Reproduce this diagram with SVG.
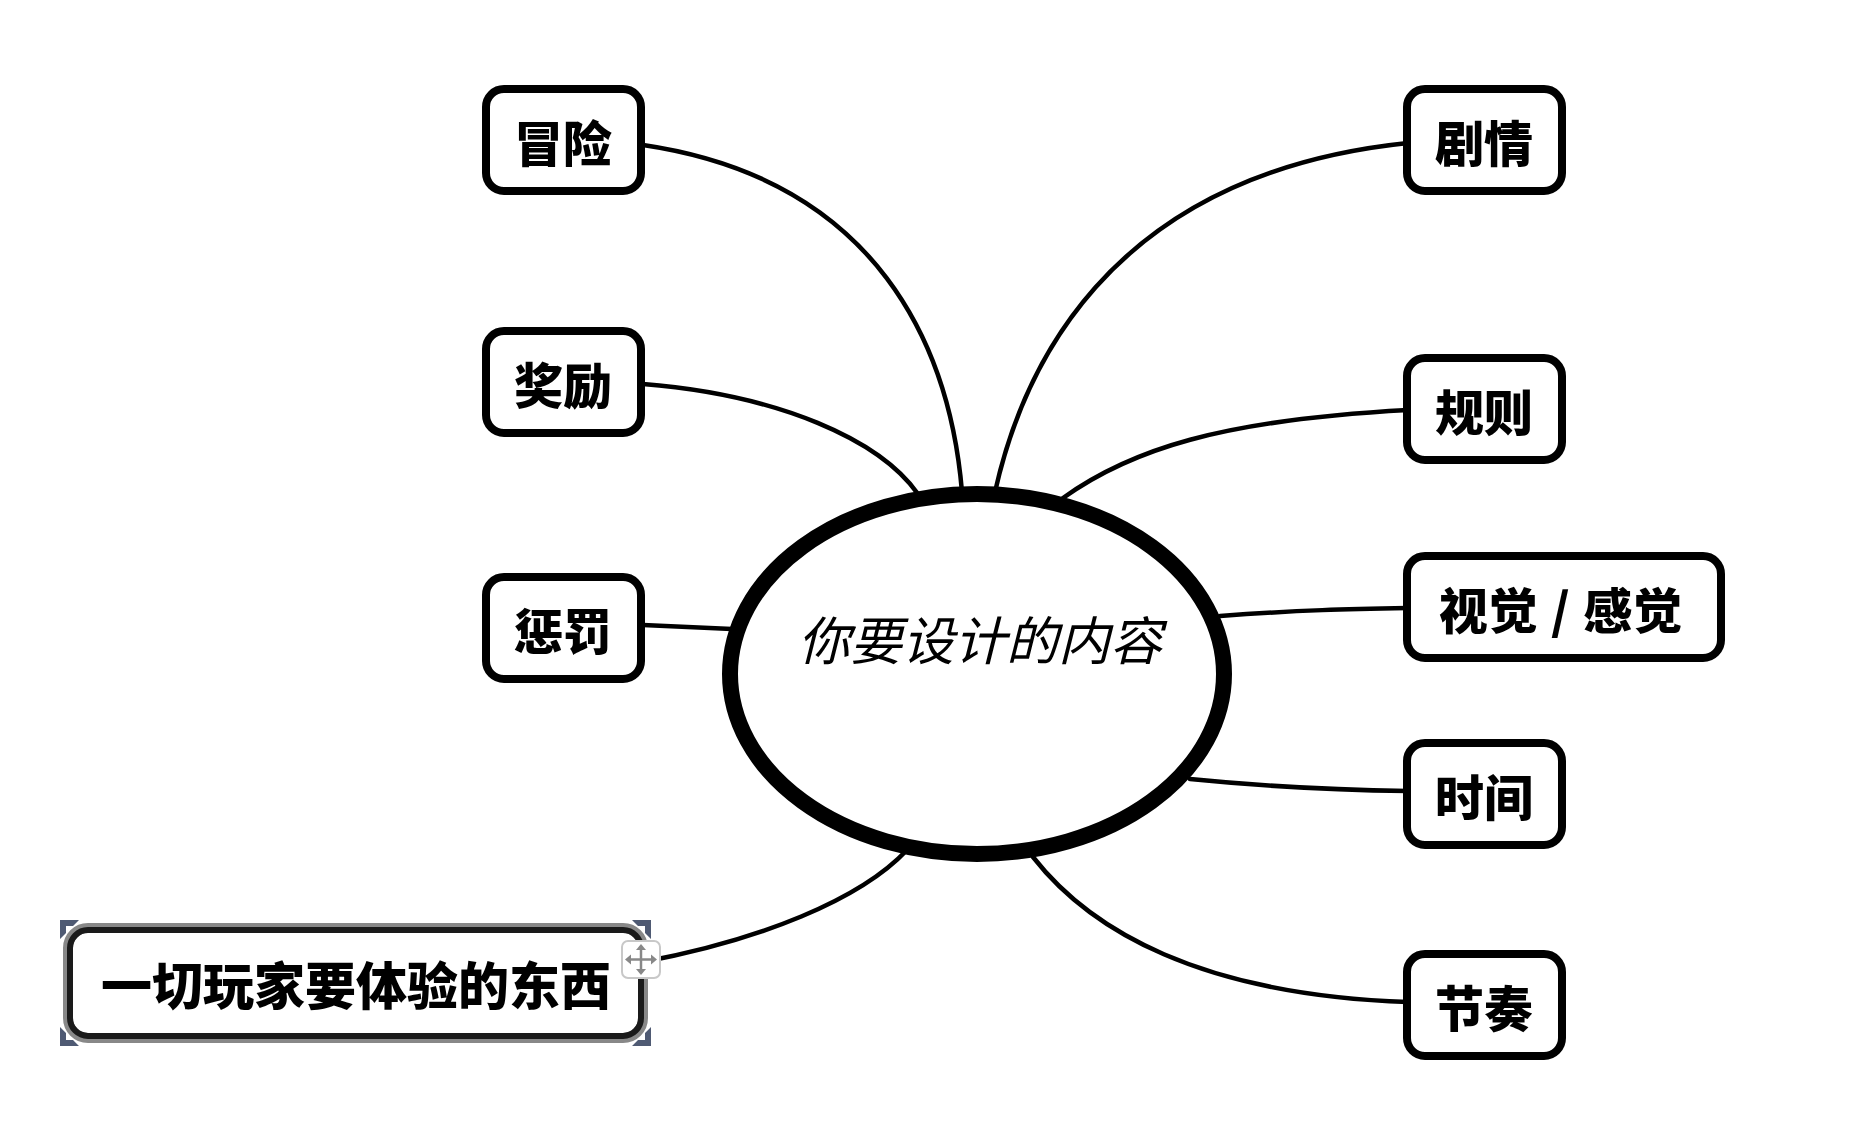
<svg xmlns="http://www.w3.org/2000/svg" width="1866" height="1142" viewBox="0 0 1866 1142">
<style>
.conn{fill:none;stroke:#000;stroke-width:4.5;stroke-linecap:round}
.box{fill:#fff;stroke:#000;stroke-width:8}
.lbl{font-family:"Noto Sans CJK SC","Noto Sans",sans-serif;font-weight:900;font-size:49px;fill:#000;text-anchor:middle;dominant-baseline:central}
.center{font-family:"Noto Sans CJK SC","Noto Sans",sans-serif;font-style:italic;font-size:52px;fill:#000;text-anchor:middle}
.handle{fill:#4f5a73}
</style>
<rect width="1866" height="1142" fill="#fff"/>
<g id="connectors">
<path class="conn" d="M643,145 C880,180 950,350 962,492"/>
<path class="conn" d="M643,384 C780,395 880,440 918,494"/>
<path class="conn" d="M643,625 L732,629"/>
<path class="conn" d="M643,962 C760,940 860,900 907,850"/>
<path class="conn" d="M995,492 C1020,380 1100,175 1408,143"/>
<path class="conn" d="M1063,498 C1130,450 1220,420 1408,410"/>
<path class="conn" d="M1220,616 C1300,610 1350,609 1408,608"/>
<path class="conn" d="M1190,779 C1260,786 1330,790 1408,791"/>
<path class="conn" d="M1033,857 C1090,930 1200,995 1408,1002"/>
</g>
<g id="center">
<ellipse cx="977" cy="674" rx="247" ry="180" fill="#fff" stroke="#000" stroke-width="16"/>
<text class="center" x="980" y="660">你要设计的内容</text>
</g>
<g id="n-maoxian">
<rect class="box" x="486" y="89" width="155" height="102" rx="18"/>
<text class="lbl" x="563" y="140">冒险</text>
</g>
<g id="n-jiangli">
<rect class="box" x="486" y="331" width="155" height="102" rx="18"/>
<text class="lbl" x="563" y="382">奖励</text>
</g>
<g id="n-chengfa">
<rect class="box" x="486" y="577" width="155" height="102" rx="18"/>
<text class="lbl" x="563" y="628">惩罚</text>
</g>
<g id="n-yiqie">
<rect x="68" y="928" width="575" height="110" rx="20" fill="#fff" stroke="#888" stroke-width="10"/>
<rect x="70" y="930" width="571" height="106" rx="18" fill="none" stroke="#1a1a1a" stroke-width="6"/>
<text class="lbl" x="356" y="983" style="font-size:51px">一切玩家要体验的东西</text>
<polygon class="handle" points="60,920 79,920 73,926 66,926 66,933 60,939"/>
<polygon class="handle" points="651,920 632,920 638,926 645,926 645,933 651,939"/>
<polygon class="handle" points="60,1046 79,1046 73,1040 66,1040 66,1033 60,1027"/>
<polygon class="handle" points="651,1046 632,1046 638,1040 645,1040 645,1033 651,1027"/>
<rect x="622" y="941" width="38" height="37" rx="6" fill="#fff" stroke="#c8c8c8" stroke-width="2"/>
<g stroke="#888" stroke-width="2.5" fill="#888">
<line x1="641" y1="946" x2="641" y2="973"/>
<line x1="627" y1="959.5" x2="655" y2="959.5"/>
</g>
<g fill="#888">
<polygon points="641,944 636,950 646,950"/>
<polygon points="641,975 636,969 646,969"/>
<polygon points="625,959.5 631,954.5 631,964.5"/>
<polygon points="657,959.5 651,954.5 651,964.5"/>
</g>
</g>
<g id="n-juqing">
<rect class="box" x="1407" y="89" width="155" height="102" rx="18"/>
<text class="lbl" x="1484" y="140">剧情</text>
</g>
<g id="n-guize">
<rect class="box" x="1407" y="358" width="155" height="102" rx="18"/>
<text class="lbl" x="1484" y="409">规则</text>
</g>
<g id="n-shijue">
<rect class="box" x="1407" y="556" width="314" height="102" rx="18"/>
<text class="lbl" x="1561" y="607" xml:space="preserve" style="letter-spacing:1px">视觉 / 感觉</text>
</g>
<g id="n-shijian">
<rect class="box" x="1407" y="743" width="155" height="102" rx="18"/>
<text class="lbl" x="1484" y="794">时间</text>
</g>
<g id="n-jiezou">
<rect class="box" x="1407" y="954" width="155" height="102" rx="18"/>
<text class="lbl" x="1484" y="1005">节奏</text>
</g>
</svg>
